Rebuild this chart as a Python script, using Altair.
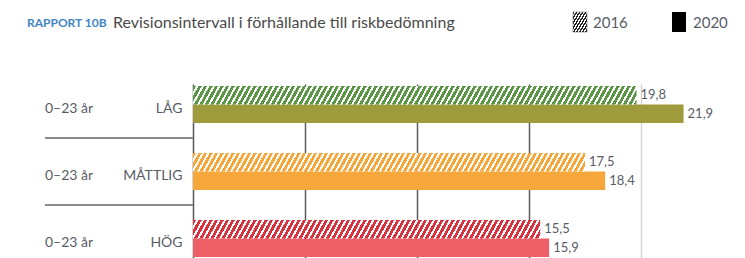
import altair as alt
import pandas as pd

# ---------------- data ----------------
categories = ["LÅG", "MÅTTLIG", "HÖG"]
age_labels = ["0–23 år", "0–23 år", "0–23 år"]
values_2016 = [19.8, 17.5, 15.5]
values_2020 = [21.9, 18.4, 15.9]
years = ["2016", "2020"]
grid_ticks = [5, 10, 15, 20]
title_tag = "RAPPORT 10B"
title_text = "Revisionsintervall i förhållande till riskbedömning"

# ---------------- styles ----------------
colors_2016 = ["#5b9647", "#f6a73b", "#d8323e"]
colors_2020 = ["#9f9a3b", "#f6a73b", "#ee5e66"]
FONT = "Lato"
TXT = "#585c66"

WIDTH = 544
HEIGHT = 175
PPU = 22.4
XMAX = WIDTH / PPU
STEP = 67.0
P_IN = 30 / STEP
P_OUT = 2 / STEP
BAR_H = (STEP * (1 - P_IN)) / 2


def hatch(color, width_px, height_px, period=5.5, duty=0.6, c=0.55, bg="white"):
    W, H = width_px, height_px
    F = W + c * H
    k = F / (W ** 2 + (c * H) ** 2)
    n = int(F / period) + 1
    stops = []
    for i in range(n):
        o0 = min(i * period / F, 1)
        o1 = min((i + duty) * period / F, 1)
        o2 = min((i + 1) * period / F, 1)
        stops += [
            {"offset": o0, "color": color},
            {"offset": o1, "color": color},
            {"offset": o1, "color": bg},
            {"offset": o2, "color": bg},
        ]
    return {"gradient": "linear", "x1": 0, "y1": 0, "x2": W * k, "y2": c * H * k, "stops": stops}


def fmt(v):
    return f"{v:.1f}".replace(".", ",")


rows = []
for i, cat in enumerate(categories):
    rows.append({"category": cat, "year": years[0], "value": values_2016[i], "label": fmt(values_2016[i])})
    rows.append({"category": cat, "year": years[1], "value": values_2020[i], "label": fmt(values_2020[i])})
df = pd.DataFrame(rows)
df_cat = pd.DataFrame({"category": categories, "age": age_labels})

grid_cond = {"condition": {"test": "datum.value == 20", "value": "#d4d4d4"}, "value": "#5a5a5a"}

x_enc = alt.X(
    "value:Q",
    scale=alt.Scale(domain=[0, XMAX], nice=False, zero=True),
    axis=alt.Axis(values=grid_ticks, grid=True, gridColor=grid_cond, gridWidth=1.5,
                  labels=False, ticks=False, domain=False, title=None),
)
y_enc = alt.Y(
    "category:N",
    sort=categories,
    scale=alt.Scale(domain=categories, paddingInner=P_IN, paddingOuter=P_OUT),
    axis=alt.Axis(title=None, ticks=False, labelPadding=11, labelFontSize=14, labelColor=TXT,
                  labelFont=FONT, domainColor="#555", domainWidth=1.5, labelOffset=4, grid=False),
)
yoff_enc = alt.YOffset("year:N", scale=alt.Scale(domain=years, paddingInner=0, paddingOuter=0))

base = alt.Chart(df)

solid = base.transform_filter(alt.datum.year == years[1]).mark_bar().encode(
    x=x_enc, y=y_enc, yOffset=yoff_enc,
    color=alt.Color("category:N", scale=alt.Scale(domain=categories, range=colors_2020), legend=None),
)

hatched_layers = []
for i, cat in enumerate(categories):
    g = hatch(colors_2016[i], values_2016[i] * PPU, BAR_H)
    hatched_layers.append(
        base.transform_filter((alt.datum.year == years[0]) & (alt.datum.category == cat))
        .mark_bar(fill=g)
        .encode(x=alt.X("value:Q"), y=alt.Y("category:N", sort=categories), yOffset=yoff_enc)
    )

labels = base.mark_text(align="left", baseline="middle", dx=4, font=FONT, fontSize=13, color=TXT).encode(
    x=alt.X("value:Q"), y=alt.Y("category:N", sort=categories), yOffset=yoff_enc, text="label:N"
)

ages = alt.Chart(df_cat).mark_text(align="left", baseline="middle", dy=4, font=FONT, fontSize=14, color=TXT).encode(
    x=alt.value(-148), y=alt.Y("category:N", sort=categories), text="age:N"
)

seps = alt.Chart(df_cat.iloc[:2]).mark_rule(yOffset=15, strokeWidth=2, color="#8c8c8c").encode(
    y=alt.Y("category:N", sort=categories, bandPosition=1), x=alt.value(-148), x2=alt.value(0)
)

one = alt.Data(values=[{"a": 1}])
title1 = alt.Chart(one).mark_text(align="left", baseline="alphabetic", font=FONT, fontSize=12,
                                  fontWeight="bold", color="#3f86c1", text=title_tag).encode(
    x=alt.value(-166), y=alt.value(-57))
title2 = alt.Chart(one).mark_text(align="left", baseline="alphabetic", font=FONT, fontSize=16,
                                  color="#4a4a4a", text=title_text).encode(
    x=alt.value(-80), y=alt.value(-56))

leg_h = hatch("#222222", 14, 20, period=3.0, duty=0.5, c=0.6)
leg1 = alt.Chart(one).mark_rect(fill=leg_h, stroke="#555", strokeWidth=0.5).encode(
    x=alt.value(380), x2=alt.value(394), y=alt.value(-72), y2=alt.value(-52))
leg2 = alt.Chart(one).mark_rect(color="black").encode(
    x=alt.value(479), x2=alt.value(493), y=alt.value(-72), y2=alt.value(-52))
leg1t = alt.Chart(one).mark_text(align="left", baseline="alphabetic", font=FONT, fontSize=15,
                                 color=TXT, text=years[0]).encode(x=alt.value(400), y=alt.value(-56))
leg2t = alt.Chart(one).mark_text(align="left", baseline="alphabetic", font=FONT, fontSize=15,
                                 color=TXT, text=years[1]).encode(x=alt.value(500), y=alt.value(-56))

chart = alt.layer(
    solid, *hatched_layers, labels, ages, seps, title1, title2, leg1, leg2, leg1t, leg2t
).properties(
    width=WIDTH, height=HEIGHT,
    padding={"left": 185, "top": 76, "right": 0, "bottom": 0},
    autosize=alt.AutoSizeParams(type="none"),
).configure_view(stroke=None)

chart.save("out.html", embed_options={"renderer": "svg", "actions": False})
